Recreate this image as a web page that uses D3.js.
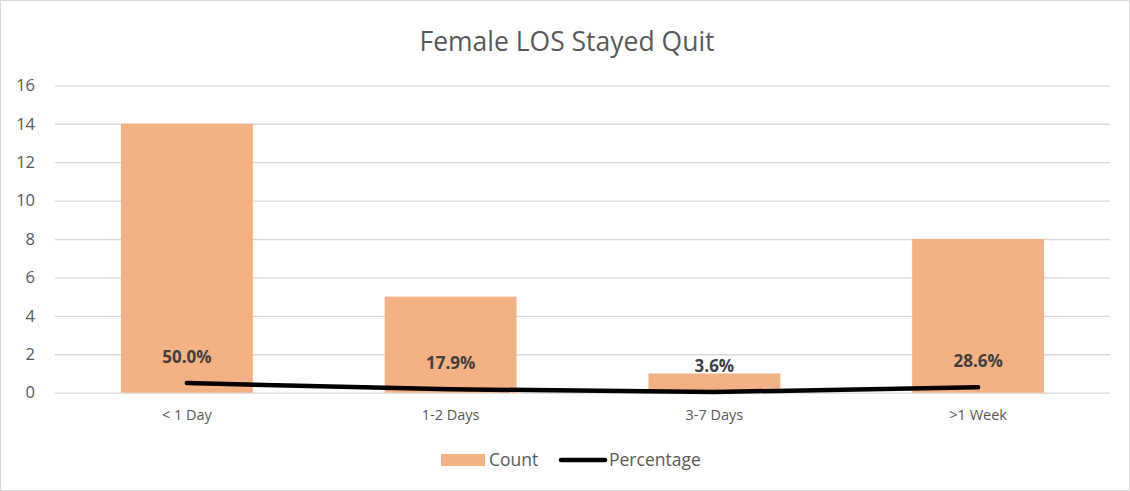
<!DOCTYPE html>
<html><head><meta charset="utf-8">
<script src="https://cdn.jsdelivr.net/npm/d3@7"></script>
<style>body{margin:0;background:#fff;}svg{display:block;font-family:"Open Sans","Liberation Sans",sans-serif;}</style>
</head><body>
<svg id="c" width="1130" height="491"></svg>
<script>
const categories = ["< 1 Day", "1-2 Days", "3-7 Days", ">1 Week"];
const counts = [14, 5, 1, 8];
const percentages = [0.5, 0.179, 0.036, 0.286];
const yTicks = [0, 2, 4, 6, 8, 10, 12, 14, 16];

const svg = d3.select("#c");
const W = 1130, H = 491;
const m = {left: 55, right: 20, top: 85.3, bottom: 98.3};
const x = d3.scaleBand().domain(categories).range([m.left, W - m.right]).padding(0);
const y = d3.scaleLinear().domain([0, 16]).range([H - m.bottom, m.top]);

svg.append("rect").attr("x", 0.5).attr("y", 0.5).attr("width", W - 1).attr("height", H - 1)
  .attr("fill", "#fff").attr("stroke", "#d9d9d9");

svg.append("text").attr("x", 567).attr("y", 51).attr("text-anchor", "middle")
  .attr("font-size", 26.5).attr("fill", "#595959").text("Female LOS Stayed Quit");

const yAxis = svg.append("g").attr("transform", `translate(${m.left},0)`)
  .call(d3.axisLeft(y).tickValues(yTicks).tickSize(-(W - m.left - m.right)).tickPadding(20));
yAxis.select(".domain").remove();
yAxis.selectAll("line").attr("stroke", "#d9d9d9").attr("stroke-width", 1.3);
yAxis.selectAll("text").attr("fill", "#595959").attr("font-size", 16.5).attr("font-family", "Open Sans, Liberation Sans, sans-serif");

const bw = x.bandwidth() * 0.5;
svg.append("g").selectAll("rect").data(categories).join("rect")
  .attr("x", d => x(d) + x.bandwidth() / 2 - bw / 2)
  .attr("y", (d, i) => y(counts[i]))
  .attr("width", bw)
  .attr("height", (d, i) => y(0) - y(counts[i]))
  .attr("fill", "#F4B183");

const xAxis = svg.append("g").attr("transform", `translate(0,${y(0)})`)
  .call(d3.axisBottom(x).tickSize(0).tickPadding(17));
xAxis.select(".domain").remove();
xAxis.selectAll("text").attr("fill", "#595959").attr("font-size", 14.5).attr("font-family", "Open Sans, Liberation Sans, sans-serif");

const cx = d => x(d) + x.bandwidth() / 2;
const line = d3.line().x(d => cx(d)).y((d, i) => y(percentages[i]));
svg.append("path").datum(categories).attr("d", line)
  .attr("fill", "none").attr("stroke", "#000").attr("stroke-width", 4.5)
  .attr("stroke-linecap", "round").attr("stroke-linejoin", "round");

svg.append("g").selectAll("text").data(categories).join("text")
  .attr("x", d => cx(d))
  .attr("y", (d, i) => y(percentages[i]) - 20)
  .attr("text-anchor", "middle").attr("font-size", 17).attr("font-weight", "bold")
  .attr("fill", "#404040")
  .text((d, i) => d3.format(".1%")(percentages[i]));

const lg = svg.append("g");
lg.append("rect").attr("x", 441).attr("y", 454).attr("width", 44).attr("height", 12).attr("fill", "#F4B183");
lg.append("text").attr("x", 489).attr("y", 466).attr("font-size", 17.5).attr("fill", "#595959").text("Count");
lg.append("line").attr("x1", 561).attr("x2", 605).attr("y1", 460).attr("y2", 460)
  .attr("stroke", "#000").attr("stroke-width", 4.5).attr("stroke-linecap", "round");
lg.append("text").attr("x", 609).attr("y", 466).attr("font-size", 17.5).attr("fill", "#595959").text("Percentage");
</script>
</body></html>
